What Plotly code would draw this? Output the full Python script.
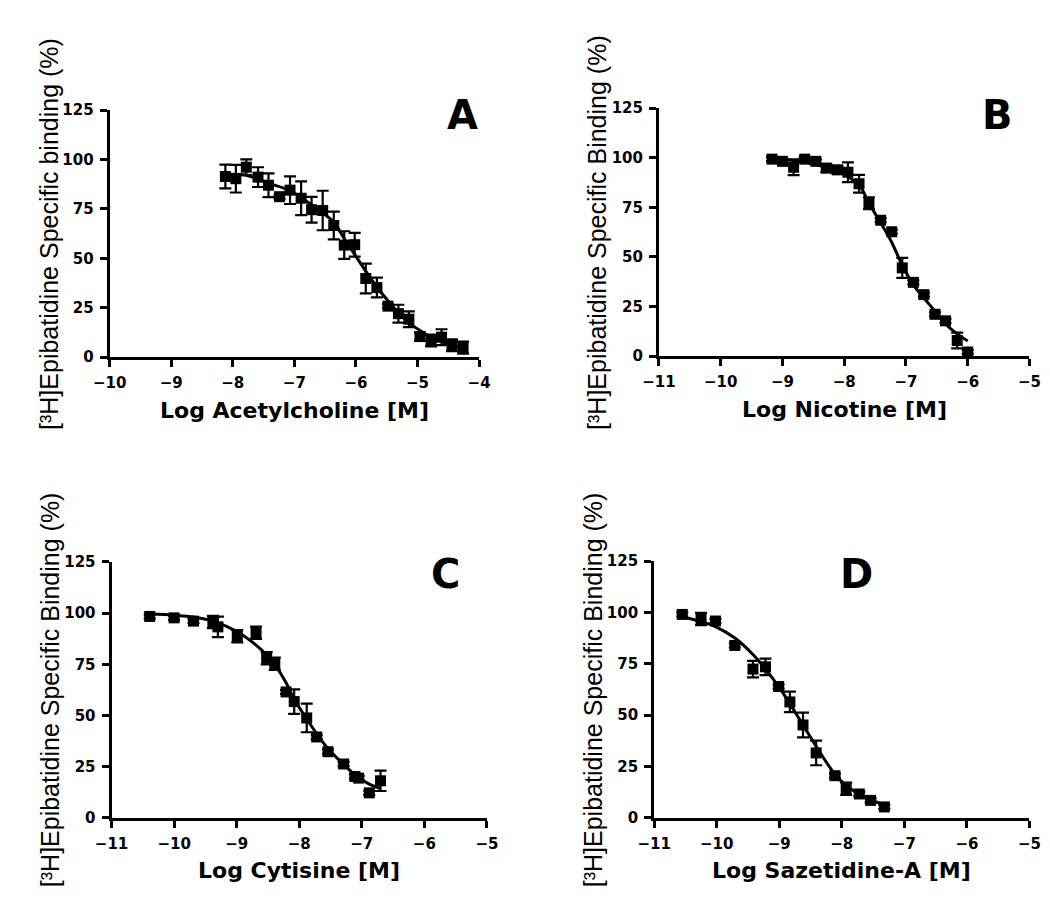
import plotly.graph_objects as go

# ---------------- Data ----------------
# Panel A: Acetylcholine
a_x = [-8.12, -7.95, -7.78, -7.59, -7.42, -7.24, -7.07, -6.89, -6.72, -6.54, -6.36,
       -6.19, -6.02, -5.84, -5.66, -5.48, -5.31, -5.14, -4.96, -4.78, -4.61, -4.44, -4.26]
a_y = [91.4, 90.3, 96.1, 91.1, 87.0, 81.2, 84.5, 80.4, 74.6, 74.2, 66.6,
       56.7, 56.9, 39.8, 35.2, 25.8, 22.0, 19.2, 10.4, 8.4, 10.1, 6.0, 4.8]
a_err = [6, 7, 4, 5, 6, 1, 7, 8.5, 6.5, 10, 7,
         7, 6, 7.5, 5, 1, 4.5, 4, 2, 3, 4, 3, 3]
a_curve_x = [-8.12, -7.78, -7.42, -7.07, -6.72, -6.36, -6.19, -6.02, -5.84, -5.66,
             -5.48, -5.31, -5.14, -4.96, -4.78, -4.61, -4.44, -4.26]
a_curve_y = [92.5, 92.0, 88.0, 84.2, 77.0, 68.3, 60.0, 52.0, 43.5, 35.5,
             28.5, 22.5, 17.5, 13.5, 10.0, 7.8, 6.0, 4.6]

# Panel B: Nicotine
b_x = [-9.17, -9.0, -8.82, -8.64, -8.46, -8.29, -8.11, -7.94, -7.76, -7.60,
       -7.41, -7.23, -7.06, -6.88, -6.71, -6.53, -6.36, -6.17, -6.0]
b_y = [99.3, 98.2, 95.2, 99.3, 98.2, 94.8, 93.9, 92.7, 86.9, 77.1,
       68.5, 62.7, 44.5, 37.2, 31.0, 21.1, 17.8, 7.9, 2.1]
b_err = [1, 1, 4, 1, 1, 2, 2, 5, 4.5, 3,
         1, 1, 5, 1, 1, 1, 1, 4, 1]
b_curve_x = [-9.17, -8.64, -8.11, -7.76, -7.60, -7.41, -7.23, -7.06, -6.88,
             -6.71, -6.53, -6.36, -6.17, -6.0]
b_curve_y = [99.8, 97.7, 93.2, 86.1, 77.1, 67.2, 57.3, 45.8, 35.9,
             29.3, 22.7, 16.2, 11.2, 7.6]

# Panel C: Cytisine
c_x = [-10.39, -10.0, -9.69, -9.38, -9.30, -8.99, -8.69, -8.52, -8.39, -8.21,
       -8.08, -7.88, -7.72, -7.54, -7.29, -7.11, -7.05, -6.88, -6.70]
c_y = [98.4, 97.7, 96.1, 95.7, 93.3, 88.7, 90.4, 78.0, 75.3, 61.5,
       56.8, 48.8, 39.5, 32.3, 26.3, 20.2, 19.4, 12.2, 18.1]
c_err = [1, 1, 1, 3, 5, 3, 3, 3, 3, 1,
         6, 7, 1, 1, 1, 1, 1, 1, 5]
c_curve_x = [-10.39, -10.0, -9.69, -9.38, -8.99, -8.69, -8.52, -8.39, -8.21,
             -8.08, -7.88, -7.72, -7.54, -7.29, -7.11, -6.88, -6.70]
c_curve_y = [99.7, 99.0, 98.1, 96.1, 90.9, 84.4, 79.6, 74.8, 66.0,
             57.9, 48.3, 41.1, 33.8, 26.1, 21.0, 16.5, 14.3]

# Panel D: Sazetidine-A
d_x = [-10.55, -10.25, -10.02, -9.71, -9.42, -9.22, -9.01, -8.83, -8.62, -8.41,
       -8.11, -7.93, -7.72, -7.54, -7.32]
d_y = [99.0, 96.8, 95.8, 83.9, 72.4, 73.5, 63.9, 56.4, 45.2, 31.6,
       20.5, 14.1, 11.6, 8.5, 5.3]
d_err = [1, 3, 1, 1, 4, 4, 1, 5, 6, 6,
         1, 3, 1, 1, 1]
d_curve_x = [-10.55, -10.25, -10.02, -9.71, -9.42, -9.22, -9.01, -8.83, -8.62,
             -8.41, -8.11, -7.93, -7.72, -7.54, -7.32]
d_curve_y = [97.9, 95.5, 93.1, 87.5, 79.5, 72.4, 63.9, 55.6, 45.2,
             34.8, 21.2, 15.7, 11.6, 9.0, 6.1]

y_ticks = [0, 25, 50, 75, 100, 125]
x_titles = ["Log Acetylcholine [M]", "Log Nicotine [M]", "Log Cytisine [M]", "Log Sazetidine-A [M]"]
y_titles = ["[³H]Epibatidine Specific binding (%)",
            "[³H]Epibatidine Specific Binding (%)",
            "[³H]Epibatidine Specific Binding (%)",
            "[³H]Epibatidine Specific Binding (%)"]
panel_letters = ["A", "B", "C", "D"]
x_ranges = [[-10, -4], [-11, -5], [-11, -5], [-11, -5]]

# ---------------- Layout ----------------
W, H = 1050, 909
# pixel boxes: (left, right, top, bottom)
boxes = [(87, 467, 95, 347), (652, 1033, 93, 346), (89, 475, 556, 817), (647, 1033, 555, 817)]
letter_pos = [(450, 100), (1000, 100), (432, 568), (855, 568)]
ytitle_x = [24, 588, 26, 585]
xtitle_dy = 54

BOLD = "DejaVu Sans"
REG = "Liberation Sans, Arial, sans-serif"
fig = go.Figure()

panels = [(a_x, a_y, a_err, a_curve_x, a_curve_y),
          (b_x, b_y, b_err, b_curve_x, b_curve_y),
          (c_x, c_y, c_err, c_curve_x, c_curve_y),
          (d_x, d_y, d_err, d_curve_x, d_curve_y)]

for i, (px, py, pe, cx, cy) in enumerate(panels):
    n = "" if i == 0 else str(i + 1)
    xa, ya = "x" + n, "y" + n
    fig.add_trace(go.Scatter(x=cx, y=cy, mode="lines", line=dict(color="black", width=3, shape="spline"),
                             xaxis=xa, yaxis=ya, showlegend=False, hoverinfo="skip"))
    fig.add_trace(go.Scatter(x=px, y=py, mode="markers",
                             marker=dict(symbol="square", size=11, color="black"),
                             error_y=dict(type="data", array=pe, visible=True, color="black",
                                          thickness=2.2, width=6),
                             xaxis=xa, yaxis=ya, showlegend=False, cliponaxis=False))
    l, r, t, b = boxes[i]
    axis_common = dict(showline=True, linecolor="black", linewidth=3, ticks="outside",
                       ticklen=7, tickwidth=3, tickcolor="black", showgrid=False, zeroline=False,
                       ticklabelstandoff=3,
                       tickfont=dict(family=BOLD, size=15, color="black", weight="bold"))
    fig.layout["xaxis" + n] = dict(domain=[l / W, r / W], anchor=ya, range=x_ranges[i],
                                   dtick=1, tick0=-11, **axis_common)
    fig.layout["yaxis" + n] = dict(domain=[1 - b / H, 1 - t / H], anchor=xa, range=[0, 125],
                                   tickvals=y_ticks, **axis_common)
    # axis titles
    fig.add_annotation(x=(l + r) / 2 / W, y=1 - (b + xtitle_dy) / H, xref="paper", yref="paper",
                       text=x_titles[i], showarrow=False, xanchor="center", yanchor="middle",
                       font=dict(family=BOLD, size=22, color="black", weight="bold"))
    fig.add_annotation(x=ytitle_x[i] / W, y=1 - (t + b) / 2 / H, xref="paper", yref="paper",
                       text=y_titles[i], showarrow=False, xanchor="center", yanchor="middle",
                       textangle=-90, font=dict(family=REG, size=25, color="black"))
    lx, ly = letter_pos[i]
    fig.add_annotation(x=lx / W, y=1 - ly / H, xref="paper", yref="paper", text=panel_letters[i],
                       showarrow=False, font=dict(family=BOLD, size=40, color="black", weight="bold"),
                       xanchor="center", yanchor="middle")

fig.update_layout(width=W, height=H, margin=dict(l=0, r=0, t=0, b=0),
                  paper_bgcolor="white", plot_bgcolor="white", showlegend=False)
fig.write_html("out.html")
